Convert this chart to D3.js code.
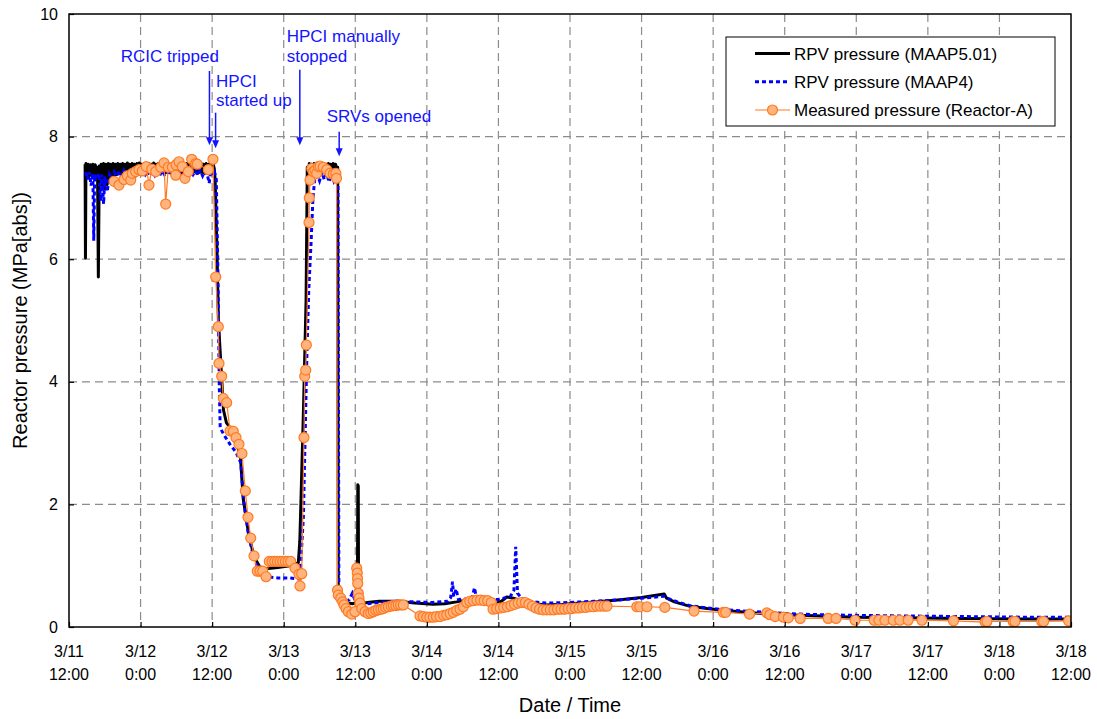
<!DOCTYPE html>
<html>
<head>
<meta charset="utf-8">
<script src="https://cdn.jsdelivr.net/npm/d3@7"></script>
<style>
  html, body { margin: 0; padding: 0; background: #fff; }
  svg { display: block; font-family: "Liberation Sans", Arial, sans-serif; }
</style>
</head>
<body>
<svg id="chart" width="1097" height="719"></svg>
<script>
// ---- Data (time = hours after 3/11 12:00, pressure in MPa[abs]) ----
const xTickHours = [0, 12, 24, 36, 48, 60, 72, 84, 96, 108, 120, 132, 144, 156, 168];
const xTickDay  = ["3/11","3/12","3/12","3/13","3/13","3/14","3/14","3/15","3/15","3/16","3/16","3/17","3/17","3/18","3/18"];
const xTickTime = ["12:00","0:00","12:00","0:00","12:00","0:00","12:00","0:00","12:00","0:00","12:00","0:00","12:00","0:00","12:00"];
const yTicks = [0, 2, 4, 6, 8, 10];

const seriesNames = ["RPV pressure (MAAP5.01)", "RPV pressure (MAAP4)", "Measured pressure (Reactor-A)"];

const maap5 = [
  [2.70,7.55],[2.76,6.02],[2.84,7.56],[3.0,7.42],[3.2,7.55],[3.4,7.35],[3.6,7.54],[3.8,7.38],[4.0,7.55],
  [4.2,7.36],[4.4,7.54],[4.6,7.40],[4.78,7.50],[4.92,5.71],[5.08,7.52],
  [5.2,7.30],[5.4,7.55],[5.6,7.20],[5.8,7.56],[6.0,7.15],[6.2,7.55],[6.4,7.22],[6.6,7.56],[6.8,7.28],
  [7.0,7.55],[7.2,7.30],[7.4,7.56],[7.6,7.35],[7.8,7.55],[8.0,7.38],[8.2,7.56],[8.4,7.40],[8.6,7.55],
  [8.8,7.41],[9.0,7.56],[9.2,7.40],[9.4,7.55],[9.6,7.42],[9.8,7.57],[10.0,7.41],[10.2,7.55],[10.4,7.40],
  [10.6,7.56],[10.8,7.42],[11.0,7.55],[11.2,7.41],[11.4,7.56],[11.6,7.40],[11.8,7.57],[12.0,7.42],
  [12.2,7.55],[12.4,7.41],[12.6,7.56],[12.8,7.43],[13.0,7.55],[13.2,7.40],[13.4,7.56],[13.6,7.42],
  [13.8,7.55],[14.0,7.41],[14.2,7.57],[14.4,7.40],[14.6,7.55],[14.8,7.42],[15.0,7.56],[15.2,7.41],
  [15.4,7.55],[15.6,7.43],[15.8,7.56],[16.0,7.40],[16.2,7.55],[16.4,7.42],[16.6,7.57],[16.8,7.41],
  [17.0,7.55],[17.2,7.40],[17.4,7.56],[17.6,7.42],[17.8,7.55],[18.0,7.41],[18.2,7.56],[18.4,7.43],
  [18.6,7.55],[18.8,7.40],[19.0,7.57],[19.2,7.42],[19.4,7.55],[19.6,7.41],[19.8,7.56],[20.0,7.40],
  [20.2,7.55],[20.4,7.42],[20.6,7.56],[20.8,7.41],[21.0,7.55],[21.2,7.43],[21.4,7.57],[21.6,7.40],
  [21.8,7.55],[22.0,7.42],[22.2,7.56],[22.4,7.41],[22.6,7.55],[22.8,7.40],[23.0,7.56],[23.2,7.42],
  [23.4,7.55],[23.6,7.41],[23.8,7.56],[24.0,7.42],[24.2,7.55],[24.35,7.48],
  [24.5,7.30],[24.8,6.20],[25.05,5.00],[25.6,4.05],[25.9,3.54],[26.4,3.33],[26.8,3.28],[27.5,3.10],
  [28.7,2.83],[29.2,2.10],[30.1,1.53],[31.0,1.15],[32.0,0.98],[33.0,0.95],[35.0,0.97],[37.0,1.00],
  [38.45,1.05],[38.7,1.40],[39.3,3.50],[39.75,5.33],[39.95,7.50],
  [40.1,7.42],[40.3,7.56],[40.5,7.40],[40.7,7.55],[40.9,7.42],[41.1,7.56],[41.3,7.41],[41.5,7.55],
  [41.7,7.40],[41.9,7.57],[42.1,7.42],[42.3,7.55],[42.5,7.41],[42.7,7.56],[42.9,7.40],[43.1,7.55],
  [43.3,7.42],[43.5,7.56],[43.7,7.41],[43.9,7.55],[44.1,7.40],[44.3,7.56],[44.5,7.42],[44.7,7.55],
  [44.9,7.43],[45.05,7.50],
  [45.15,0.55],[45.5,0.44],[46.5,0.40],[47.5,0.38],[48.35,0.40],[48.42,2.32],[48.5,2.30],[48.55,0.50],
  [49.0,0.38],[50.0,0.40],[52,0.42],[55,0.42],[58,0.39],[61,0.37],[63,0.38],[65,0.41],[67,0.45],
  [70,0.46],[71.2,0.45],[71.5,0.38],[72.5,0.42],[73.4,0.49],[74.5,0.47],[76,0.42],[78,0.38],[80,0.36],
  [83,0.37],[87,0.40],[92,0.44],[96,0.48],[99.8,0.54],[100.2,0.47],[101.5,0.41],[104,0.34],[107,0.30],
  [110,0.27],[115,0.23],[120,0.20],[126,0.18],[132,0.16],[140,0.15],[150,0.14],[160,0.13],[168,0.13]
];

const maap4 = [
  [2.8,7.42],[3.1,7.30],[3.4,7.42],[3.7,7.20],[4.0,7.40],[4.15,6.30],[4.3,7.38],[4.6,7.30],[5.0,7.40],
  [5.3,6.95],[5.5,7.38],[5.8,6.90],[6.0,7.35],[6.4,7.10],[6.8,7.38],[7.2,7.30],[7.6,7.42],[8.0,7.35],
  [8.4,7.44],[8.8,7.36],[9.2,7.45],[9.6,7.37],[10.0,7.44],[10.4,7.35],[10.8,7.45],[11.2,7.37],
  [11.6,7.44],[12.0,7.36],[12.4,7.45],[12.8,7.38],[13.2,7.44],[13.6,7.36],[14.0,7.45],[14.4,7.37],
  [14.8,7.44],[15.2,7.36],[15.6,7.45],[16.0,7.38],[16.4,7.44],[16.8,7.37],[17.2,7.45],[17.6,7.36],
  [18.0,7.44],[18.4,7.38],[18.8,7.45],[19.2,7.37],[19.6,7.44],[20.0,7.36],[20.4,7.45],[20.8,7.38],
  [21.2,7.44],[21.6,7.37],[22.0,7.45],[22.4,7.36],[22.8,7.44],[23.2,7.38],[23.5,7.24],[23.8,7.45],
  [24.1,7.37],[24.4,7.42],
  [24.7,7.30],[25.0,5.60],[25.2,3.92],[25.35,3.25],[26.0,3.13],[27.0,2.98],[28.0,2.85],[28.8,2.68],
  [29.3,2.05],[30.1,1.50],[31.0,1.12],[32.0,0.90],[33.0,0.82],[35.0,0.80],[37.0,0.80],[38.7,0.78],
  [39.3,1.80],[39.9,4.50],[40.2,5.50],[40.6,6.30],[40.9,7.00],[41.2,7.30],
  [41.6,7.38],[42.0,7.28],[42.4,7.42],[42.8,7.30],[43.2,7.40],[43.6,7.26],[44.0,7.41],[44.4,7.28],
  [44.8,7.38],[45.1,7.30],
  [45.25,0.60],[45.6,0.45],[46.2,0.40],[47.0,0.45],[47.5,0.55],[48.0,0.42],[48.6,0.66],[49.0,0.42],
  [50,0.38],[52,0.40],[55,0.42],[58,0.41],[61,0.40],[63.5,0.42],[64.0,0.48],[64.3,0.74],[64.5,0.50],
  [64.9,0.62],[65.3,0.45],[67.5,0.46],[68.0,0.64],[68.3,0.47],[71,0.45],[72,0.45],[74,0.50],[74.6,0.60],
  [74.9,1.31],[75.2,0.55],[75.8,0.48],[77,0.42],[80,0.39],[84,0.40],[88,0.42],[92,0.44],[96,0.47],
  [99.8,0.50],[100.3,0.47],[102,0.41],[104,0.35],[107,0.31],[110,0.28],[115,0.25],[120,0.22],
  [126,0.20],[132,0.19],[140,0.18],[150,0.17],[160,0.16],[168,0.16]
];

const measured = [
  [7.55,7.27],[8.38,7.21],[9.22,7.30],[9.78,7.36],[10.35,7.29],[10.61,7.40],[11.18,7.43],[11.74,7.46],
  [12.29,7.44],[12.96,7.51],[13.41,7.21],[13.87,7.47],[14.54,7.43],[15.38,7.50],[15.93,7.57],[16.21,6.90],
  [16.65,7.50],[17.32,7.50],[17.89,7.37],[17.95,7.54],[18.44,7.59],[19.0,7.51],[19.45,7.32],[20.0,7.43],
  [20.57,7.63],[21.24,7.56],[21.51,7.55],[23.36,7.46],[24.14,7.63],[24.6,5.71],[25.03,4.90],[25.15,4.30],
  [25.6,4.09],[25.87,3.73],[26.44,3.66],[27.0,3.20],[27.55,3.19],[28.0,3.09],[28.5,2.98],[29.0,2.83],
  [29.56,2.22],[30.01,1.79],[30.47,1.45],[31.02,1.16],[31.57,0.91],[32.03,0.91],[32.48,0.91],[33.03,0.82],
  [33.58,1.07],[34.04,1.07],[34.49,1.07],[34.93,1.07],[35.38,1.07],[35.83,1.07],[36.27,1.07],[36.72,1.07],
  [37.17,1.07],[37.89,0.96],[38.56,0.86],[38.73,0.67],[39.02,0.87],[39.4,3.09],[39.52,4.09],[39.69,4.19],
  [39.79,4.60],[40.24,6.60],[40.29,7.00],[40.41,7.29],[40.7,7.48],[40.96,7.43],[41.25,7.45],[41.53,7.40],
  [41.8,7.51],[42.09,7.52],[42.64,7.50],[43.21,7.46],[43.76,7.40],[44.32,7.39],[44.75,7.40],[44.85,7.32],
  [45.02,0.60],[45.15,0.52],[45.56,0.47],[45.89,0.41],[46.11,0.36],[46.45,0.30],[46.83,0.25],[47.4,0.21],
  [47.95,0.25],[48.24,0.96],[48.34,0.88],[48.37,0.79],[48.41,0.71],[48.51,0.55],[48.62,0.47],[48.79,0.39],
  [49.08,0.30],[49.63,0.25],[50.18,0.22],[50.6,0.23],[51.02,0.25],[51.45,0.27],[51.86,0.28],[52.3,0.29],
  [52.7,0.30],[53.1,0.32],[53.54,0.33],[54.0,0.34],[54.38,0.35],[54.8,0.35],[55.21,0.36],[55.6,0.36],
  [56.05,0.36],
  [58.85,0.18],[59.4,0.17],[59.98,0.16],[60.5,0.16],[61.08,0.16],[61.6,0.17],[62.21,0.17],[62.8,0.19],
  [63.33,0.20],[63.9,0.22],[64.44,0.24],[65.0,0.27],[65.56,0.29],[66.11,0.33],
  [66.7,0.40],[67.2,0.42],[67.8,0.43],[68.4,0.44],[69.0,0.44],[69.6,0.43],[70.2,0.43],[70.8,0.40],
  [71.1,0.29],[71.7,0.30],[72.3,0.31],[72.9,0.32],[73.5,0.33],[74.1,0.35],[74.7,0.37],[75.3,0.39],
  [75.9,0.40],[76.5,0.40],[77.1,0.37],[77.7,0.34],[78.3,0.31],[78.9,0.29],[79.5,0.28],[80.1,0.28],
  [80.7,0.28],[81.3,0.28],[81.9,0.29],[82.5,0.29],[83.1,0.29],[83.7,0.30],[84.3,0.30],[84.9,0.31],
  [85.5,0.31],[86.1,0.32],[86.7,0.32],[87.3,0.33],[87.9,0.33],[88.5,0.34],[89.1,0.34],[89.7,0.34],
  [90.2,0.34],
  [95.2,0.33],[95.7,0.33],[96.9,0.33],[99.9,0.32],[104.8,0.26],[109.7,0.24],[110.1,0.24],[114.1,0.21],
  [117.0,0.23],[117.5,0.20],[118.4,0.17],[119.8,0.16],[120.6,0.15],[122.6,0.14],[127.3,0.14],[128.6,0.14],
  [131.8,0.11],[135.0,0.11],[135.8,0.11],[136.8,0.11],[138.2,0.11],[139.3,0.11],[140.7,0.11],[143.0,0.11],
  [148.3,0.10],[153.6,0.08],[153.9,0.09],[158.3,0.09],[158.6,0.09],[163.1,0.09],[163.4,0.09],[167.6,0.10]
];

// Event annotations: arrow time (h), arrow top / tip (MPa), label lines
const eventHours = [23.55, 24.58, 38.7, 45.3];
const eventArrowTop = [9.07, 8.39, 9.09, 8.08];
const eventArrowTip = [7.86, 7.81, 7.86, 7.68];
const eventLabels = [
  { lines: ["RCIC tripped"], h: 8.66, v: [9.22] },
  { lines: ["HPCI", "started up"], h: 24.65, v: [8.81, 8.50] },
  { lines: ["HPCI manually", "stopped"], h: 36.5, v: [9.55, 9.22] },
  { lines: ["SRVs opened"], h: 43.2, v: [8.24] }
];

// ---- Drawing ----
const svg = d3.select("#chart");
const L = 69, R = 1071, T = 14, B = 627;
const x = d3.scaleLinear().domain([0, 168]).range([L, R]);
const y = d3.scaleLinear().domain([0, 10]).range([B, T]);

const cBlack = "#000000", cBlue = "#0000ff", cOrange = "#ff7a22", cOrangeFill = "#ffb47d", cAnno = "#1414ff";

svg.append("defs").append("clipPath").attr("id", "clip")
  .append("rect").attr("x", L).attr("y", T).attr("width", R - L).attr("height", B - T);

// grid
const grid = svg.append("g").attr("stroke", "#8c8c8c").attr("stroke-width", 1.2).attr("stroke-dasharray", "8,5");
grid.selectAll("line.v").data(xTickHours.slice(1, -1)).join("line")
  .attr("x1", d => x(d)).attr("x2", d => x(d)).attr("y1", T).attr("y2", B);
grid.selectAll("line.h").data(yTicks.slice(1, -1)).join("line")
  .attr("x1", L).attr("x2", R).attr("y1", d => y(d)).attr("y2", d => y(d));

const plot = svg.append("g").attr("clip-path", "url(#clip)");
const line = d3.line().x(d => x(d[0])).y(d => y(d[1]));

plot.append("path").datum(maap5).attr("d", line)
  .attr("fill", "none").attr("stroke", cBlack).attr("stroke-width", 3).attr("stroke-linejoin", "round");
plot.append("path").datum(maap4).attr("d", line)
  .attr("fill", "none").attr("stroke", cBlue).attr("stroke-width", 3).attr("stroke-dasharray", "4,3");
plot.append("path").datum(measured).attr("d", line)
  .attr("fill", "none").attr("stroke", cOrange).attr("stroke-width", 1.2);
plot.selectAll("circle.m").data(measured).join("circle")
  .attr("cx", d => x(d[0])).attr("cy", d => y(d[1])).attr("r", 5)
  .attr("fill", cOrangeFill).attr("stroke", cOrange).attr("stroke-width", 1.2);

// frame
svg.append("rect").attr("x", L).attr("y", T).attr("width", R - L).attr("height", B - T)
  .attr("fill", "none").attr("stroke", "#000").attr("stroke-width", 1.5);

// axes
const xAxis = svg.append("g").attr("transform", `translate(0,${B})`)
  .call(d3.axisBottom(x).tickValues(xTickHours).tickSize(-5).tickFormat(""));
xAxis.select(".domain").remove();
xAxis.selectAll(".tick line").attr("stroke", "#000").attr("stroke-width", 1.2);

const xl = svg.append("g").attr("font-size", 16).attr("fill", "#000").attr("text-anchor", "middle");
xTickHours.forEach((h, i) => {
  const t = xl.append("text").attr("x", x(h));
  t.append("tspan").attr("x", x(h)).attr("y", 657).text(xTickDay[i]);
  t.append("tspan").attr("x", x(h)).attr("y", 680).text(xTickTime[i]);
});

const yAxis = svg.append("g").attr("transform", `translate(${L},0)`)
  .call(d3.axisLeft(y).tickValues(yTicks).tickSize(-5).tickPadding(11).tickFormat(d3.format("d")));
yAxis.select(".domain").remove();
yAxis.selectAll(".tick line").attr("stroke", "#000").attr("stroke-width", 1.2);
yAxis.selectAll(".tick text").attr("font-size", 16).attr("fill", "#000")
  .attr("font-family", "Liberation Sans, Arial, sans-serif");

// axis titles
svg.append("text").attr("x", (L + R) / 2).attr("y", 712).attr("text-anchor", "middle")
  .attr("font-size", 20).attr("fill", "#000").text("Date / Time");
svg.append("text").attr("transform", `translate(27,${(T + B) / 2}) rotate(-90)`)
  .attr("text-anchor", "middle").attr("font-size", 20).attr("fill", "#000")
  .text("Reactor pressure (MPa[abs])");

// annotations
const anno = svg.append("g");
eventHours.forEach((h, i) => {
  const ax = x(h), y0 = y(eventArrowTop[i]), y1 = y(eventArrowTip[i]);
  anno.append("line").attr("x1", ax).attr("x2", ax).attr("y1", y0).attr("y2", y1 - 6)
    .attr("stroke", cAnno).attr("stroke-width", 1.5);
  anno.append("path").attr("d", `M${ax - 3.5},${y1 - 8} L${ax + 3.5},${y1 - 8} L${ax},${y1} Z`).attr("fill", cAnno);
});
eventLabels.forEach(e => {
  e.lines.forEach((s, j) => {
    anno.append("text").attr("x", x(e.h)).attr("y", y(e.v[j]))
      .attr("font-size", 17).attr("fill", cAnno).text(s);
  });
});

// legend
const lg = svg.append("g");
lg.append("rect").attr("x", 726).attr("y", 37).attr("width", 329).attr("height", 89)
  .attr("fill", "#fff").attr("stroke", "#000").attr("stroke-width", 1);
const rowsY = [53.5, 81.7, 110];
lg.append("line").attr("x1", 755).attr("x2", 790).attr("y1", rowsY[0]).attr("y2", rowsY[0])
  .attr("stroke", cBlack).attr("stroke-width", 3);
lg.append("line").attr("x1", 755).attr("x2", 790).attr("y1", rowsY[1]).attr("y2", rowsY[1])
  .attr("stroke", cBlue).attr("stroke-width", 3).attr("stroke-dasharray", "4,3");
lg.append("line").attr("x1", 755).attr("x2", 790).attr("y1", rowsY[2]).attr("y2", rowsY[2])
  .attr("stroke", cOrange).attr("stroke-width", 1.2);
lg.append("circle").attr("cx", 772.5).attr("cy", rowsY[2]).attr("r", 5)
  .attr("fill", cOrangeFill).attr("stroke", cOrange).attr("stroke-width", 1.2);
seriesNames.forEach((s, i) => {
  lg.append("text").attr("x", 794).attr("y", rowsY[i] + 6).attr("font-size", 17).attr("fill", "#000").text(s);
});
</script>
</body>
</html>
